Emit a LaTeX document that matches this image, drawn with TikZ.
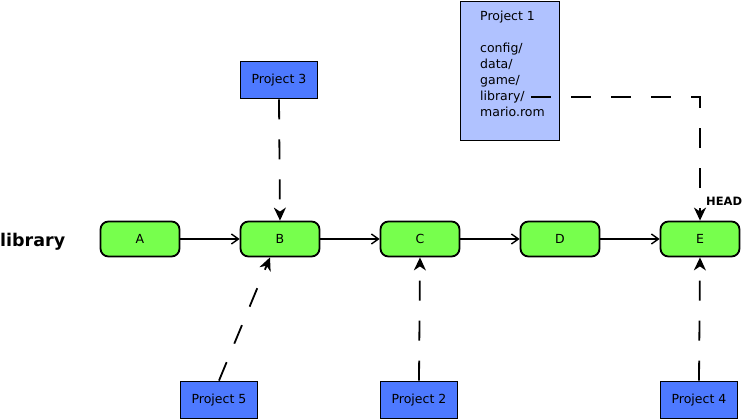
\documentclass[tikz,border=0pt]{standalone}
\usepackage{fontspec}
\setmainfont{DejaVu Sans}
\usetikzlibrary{arrows.meta}
\definecolor{commitgreen}{HTML}{77FF4D}
\definecolor{projblue}{HTML}{4D79FF}
\definecolor{projlight}{HTML}{B0C2FF}
\begin{document}
\begin{tikzpicture}[x=1pt,y=-1pt,
  lbl/.style={font=\fontsize{12.5}{16}\selectfont},
  commit/.style={draw=black,line width=1.8pt,fill=commitgreen,rounded corners=8pt,minimum width=79pt,minimum height=35pt,inner sep=0pt,lbl},
  proj/.style={draw=black,line width=1.8pt,fill=projblue,minimum width=77pt,minimum height=37pt,inner sep=0pt,lbl},
  parent/.style={draw=black,line width=1.8pt,-{Straight Barb[length=7pt,width=10pt,line width=1.4pt]}},
  ref/.style={draw=black,line width=1.8pt,dash pattern=on 20pt off 20pt,-{Stealth[length=13pt,width=12pt,inset=4pt]}}]
\useasboundingbox (0,0) rectangle (745,420);
\node[commit] (A) at (140,239) {A};
\node[commit] (B) at (280,239) {B};
\node[commit] (C) at (420,239) {C};
\node[commit] (D) at (560,239) {D};
\node[commit] (E) at (700,239) {E};
\node[font=\bfseries\fontsize{17.5}{20}\selectfont,anchor=base west,inner sep=0pt] (lib) at (0,246) {library};
\node[font=\bfseries\fontsize{11.5}{13}\selectfont,anchor=base west,inner sep=0pt] (head) at (706,205) {HEAD};
\draw[parent] (A) -- (B);
\draw[parent] (B) -- (C);
\draw[parent] (C) -- (D);
\draw[parent] (D) -- (E);
\node[proj] (P3) at (279,80) {Project 3};
\node[proj] (P5) at (219,400) {Project 5};
\node[proj] (P2) at (419,400) {Project 2};
\node[proj] (P4) at (699,400) {Project 4};
\node[draw=black,line width=1.8pt,fill=projlight,minimum width=99pt,minimum height=139pt,inner sep=0pt] (P1) at (510,71) {};
\node[anchor=north west,align=left,inner sep=0pt,lbl] (P1text) at (480,11) {Project 1\\[16pt]config/\\data/\\game/\\library/\\mario.rom};
\coordinate (P1lib) at (531,97);
\draw[ref] (P1lib) -- (700,97) -- (E.north);
\draw[ref] (P3.south) -- (B.north);
\draw[ref] (P5.north) -- ([xshift=-10pt]B.south);
\draw[ref] (P2.north) -- (C.south);
\draw[ref] (P4.north) -- (E.south);
\end{tikzpicture}
\end{document}
